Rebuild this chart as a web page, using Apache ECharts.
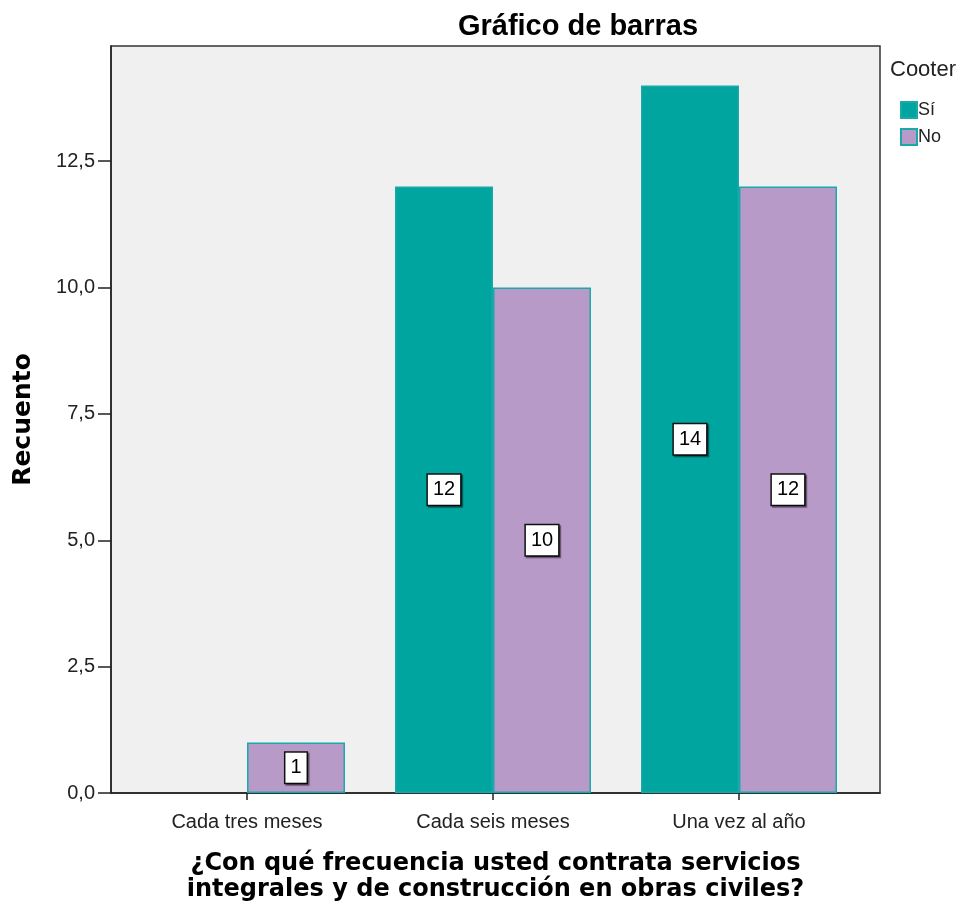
<!DOCTYPE html>
<html><head><meta charset="utf-8">
<script src="https://cdn.jsdelivr.net/npm/echarts@6/dist/echarts.min.js"></script>
<style>html,body{margin:0;padding:0;background:#fff}#c{width:965px;height:908px}</style>
</head><body><div id="c"></div>
<script>
var categories = ['Cada tres meses', 'Cada seis meses', 'Una vez al año'];
var seriesNames = ['Sí', 'No'];
var valuesSi = [null, 12, 14];
var valuesNo = [1, 10, 12];
var yTicks = [0, 2.5, 5, 7.5, 10, 12.5];

var chart = echarts.init(document.getElementById('c'), null, {renderer: 'canvas'});
var fontFam = 'Arial, "Liberation Sans", sans-serif';
var boldFam = '"DejaVu Sans", sans-serif';
var labelStyle = {
  show: true, position: 'inside', color: '#000', fontSize: 20, fontFamily: fontFam,
  backgroundColor: '#fff', borderColor: '#111', borderWidth: 1.5,
  padding: [6, 5, 4, 5],
  shadowColor: 'rgba(0,0,0,0.45)', shadowOffsetX: 1.5, shadowOffsetY: 1.5, shadowBlur: 1,
  formatter: function (p) { return p.value; }
};
chart.setOption({
  animation: false,
  title: {
    text: 'Gráfico de barras', left: 573, top: 7, textAlign: 'center',
    textStyle: {fontSize: 29, fontWeight: 'bold', color: '#000', fontFamily: fontFam}
  },
  legend: {
    orient: 'vertical', left: 900, top: 100, padding: 0, itemWidth: 16, itemHeight: 16, itemGap: 7,
    icon: 'rect', data: seriesNames,
    textStyle: {fontSize: 18, color: '#222', fontFamily: fontFam, padding: [0, 0, 0, -4], lineHeight: 20}
  },
  graphic: [{
    type: 'text', left: 890, top: 59,
    style: {text: 'Cooter', fontSize: 22, fill: '#222', fontFamily: fontFam}
  }],
  grid: [
    {left: 111, right: 85, top: 46, bottom: 115, show: true, backgroundColor: '#f0f0f0', borderColor: '#333', borderWidth: 1.5, containLabel: false},
    {left: 124, right: 103, top: 46, bottom: 115, containLabel: false}
  ],
  xAxis: [
    {type: 'value', gridIndex: 0, min: 0, max: 1, show: true,
      axisLine: {show: true, lineStyle: {color: '#222', width: 1.5}}, axisTick: {show: false}, axisLabel: {show: false}, splitLine: {show: false},
      name: '¿Con qué frecuencia usted contrata servicios\nintegrales y de construcción en obras civiles?',
      nameLocation: 'middle', nameGap: 58,
      nameTextStyle: {fontSize: 24, fontWeight: 'bold', color: '#000', fontFamily: boldFam, lineHeight: 26}
    },
    {type: 'category', gridIndex: 1, data: categories,
      axisLine: {show: false}, axisTick: {show: true, alignWithLabel: true, length: 7, lineStyle: {color: '#222', width: 1.5}},
      axisLabel: {fontSize: 20, color: '#222', fontFamily: fontFam, margin: 19}
    }
  ],
  yAxis: [
    {type: 'value', gridIndex: 0, min: 0, max: 14.78, interval: 2.5,
      axisLine: {show: true, lineStyle: {color: '#222', width: 1.5}},
      axisTick: {show: true, length: 13, lineStyle: {color: '#222', width: 1.5}},
      axisLabel: {fontSize: 20, color: '#222', fontFamily: fontFam, margin: 16, showMaxLabel: false,
        formatter: function (v) { return yTicks.indexOf(v) >= 0 ? v.toFixed(1).replace('.', ',') : ''; }},
      splitLine: {show: false},
      name: 'Recuento', nameLocation: 'middle', nameGap: 75, nameRotate: 90,
      nameTextStyle: {fontSize: 25, fontWeight: 'bold', color: '#000', fontFamily: boldFam}
    },
    {type: 'value', gridIndex: 1, min: 0, max: 14.78, show: false}
  ],
  series: [
    {name: seriesNames[0], type: 'bar', xAxisIndex: 1, yAxisIndex: 1, data: valuesSi,
      barWidth: 98, barGap: '0%',
      itemStyle: {color: '#00a5a0', borderColor: '#1aa8a8', borderWidth: 1.5},
      label: labelStyle
    },
    {name: seriesNames[1], type: 'bar', xAxisIndex: 1, yAxisIndex: 1, data: valuesNo,
      barWidth: 98, barGap: '0%',
      itemStyle: {color: '#b89ac8', borderColor: '#1aa8a8', borderWidth: 1.5},
      label: labelStyle
    }
  ]
});
</script></body></html>
